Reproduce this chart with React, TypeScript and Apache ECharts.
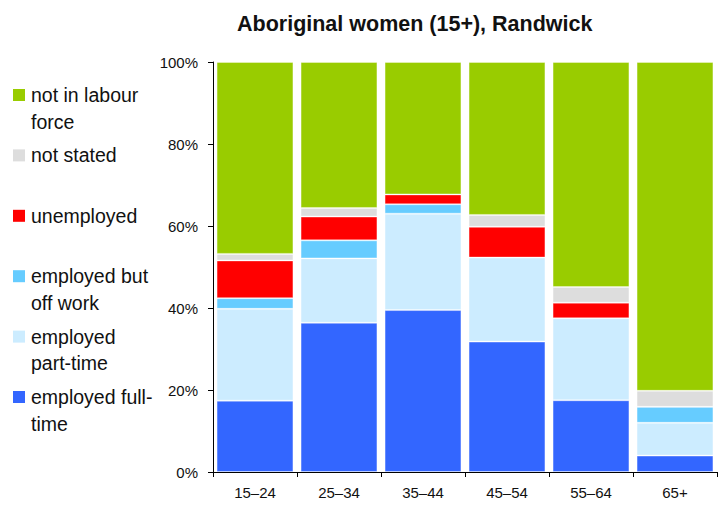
import React, { useEffect, useRef } from "react";
import * as echarts from "echarts";

const categories = ["15–24", "25–34", "35–44", "45–54", "55–64", "65+"];
const seriesNames = [
  "employed full-time",
  "employed part-time",
  "employed but off work",
  "unemployed",
  "not stated",
  "not in labour force",
];
const fullTime = [17.4, 36.4, 39.5, 31.8, 17.5, 4.0];
const partTime = [22.4, 15.7, 23.5, 20.5, 20.0, 8.0];
const offWork = [2.6, 4.4, 2.3, 0, 0, 3.9];
const unemployed = [9.2, 5.8, 2.4, 7.5, 3.8, 0];
const notStated = [1.6, 2.1, 0, 2.9, 3.8, 3.9];
const notInLabour = [46.8, 35.6, 32.3, 37.3, 54.9, 80.2];
const seriesColors = ["#3366FF", "#CCECFF", "#66CCFF", "#FF0000", "#DDDDDD", "#99CC00"];
const legendOrder = [5, 4, 3, 2, 1, 0];
const legendLabels = [
  "employed full-\ntime",
  "employed\npart-time",
  "employed but\noff work",
  "unemployed",
  "not stated",
  "not in labour\nforce",
];
const yTicks = [0, 20, 40, 60, 80, 100];

const FONT = "'Liberation Sans', Arial, Helvetica, sans-serif";

export default function App() {
  const ref = useRef<HTMLDivElement>(null);
  useEffect(() => {
    document.body.style.margin = "0";
    const chart = echarts.init(ref.current!, null, { renderer: "svg" });
    const values = [fullTime, partTime, offWork, unemployed, notStated, notInLabour];
    const legendGraphics: any[] = [];
    legendOrder.forEach((si, i) => {
      const cy = 95 + i * 60.4;
      legendGraphics.push({
        type: "rect",
        shape: { x: 13, y: cy - 6, width: 12, height: 12 },
        style: { fill: seriesColors[si] },
      });
      legendGraphics.push({
        type: "text",
        x: 31,
        y: cy - 13.3,
        style: {
          text: legendLabels[si],
          fill: "#111",
          font: `19.5px ${FONT}`,
          lineHeight: 26.7,
          verticalAlign: "top",
          align: "left",
        },
      });
    });
    chart.setOption({
      animation: false,
      title: {
        text: "Aboriginal women (15+), Randwick",
        left: 237,
        top: 13,
        padding: 0,
        textStyle: { fontFamily: FONT, fontSize: 21.5, fontWeight: "bold", color: "#111" },
      },
      grid: { left: 213, right: 10, top: 62, bottom: 34, containLabel: false },
      xAxis: {
        type: "category",
        data: categories,
        boundaryGap: true,
        axisLine: { lineStyle: { color: "#000", width: 1 } },
        axisTick: { show: true, length: 5, lineStyle: { color: "#000" } },
        axisLabel: { fontFamily: FONT, fontSize: 15, color: "#111", margin: 13 },
      },
      yAxis: {
        type: "value",
        min: 0,
        max: 100,
        interval: 20,
        axisLine: { show: true, lineStyle: { color: "#000", width: 1 } },
        axisTick: { show: true, length: 5, lineStyle: { color: "#000" } },
        splitLine: { show: false },
        axisLabel: {
          fontFamily: FONT,
          fontSize: 15,
          color: "#111",
          margin: 15,
          formatter: (v: number) => (yTicks.includes(v) ? `${v}%` : ""),
        },
      },
      graphic: legendGraphics,
      series: seriesNames.map((name, si) => ({
        name,
        type: "bar",
        stack: "total",
        barCategoryGap: "8.5%",
        data: values[si],
        itemStyle: {
          color: seriesColors[si],
          borderColor: "rgba(255,255,255,0.35)",
          borderWidth: values[si] ? 1 : 0,
        },
        emphasis: { disabled: true },
      })),
    });
    return () => chart.dispose();
  }, []);
  return (
    <div
      ref={ref}
      style={{ width: 727, height: 506, position: "absolute", left: 0, top: 0 }}
    />
  );
}
